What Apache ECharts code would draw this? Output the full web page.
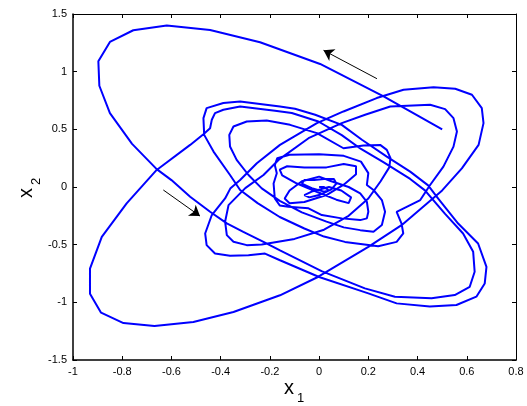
<!DOCTYPE html>
<html>
<head>
<meta charset="utf-8">
<script src="https://cdn.jsdelivr.net/npm/echarts@6/dist/echarts.min.js"></script>
<style>
  html, body { margin: 0; padding: 0; background: #fff; }
  #chart { width: 527px; height: 406px; }
</style>
</head>
<body>
<div id="chart"></div>
<script>
// trajectory, x1 and x2
const x1Values = [
  0.5, 0.262, 0.004, -0.24, -0.443, -0.619, -0.755, -0.85, -0.897, -0.893, -0.85, -0.76, -0.66, -0.6, -0.524, -0.443, -0.375, -0.308, -0.226, -0.159,
  0.01, 0.186, 0.308, 0.457, 0.551, 0.612, 0.632, 0.626, 0.585, 0.511, 0.43, 0.37, 0.261, 0.17, 0.092, -0.003, -0.111, -0.179, -0.321, -0.389,
  -0.423, -0.436, -0.443, -0.47,
  -0.524, -0.66, -0.782, -0.883, -0.931, -0.931, -0.886, -0.795, -0.669, -0.511, -0.348, -0.159, -0.003, 0.2, 0.335, 0.5, 0.58, 0.648, 0.668, 0.661,
  0.621, 0.553, 0.465, 0.343, 0.234, 0.099, -0.009, -0.159, -0.253, -0.321, -0.36, -0.382, -0.436, -0.463, -0.457, -0.423, -0.362, -0.287, -0.22,
  -0.159, 0.0, 0.2, 0.315, 0.45, 0.558, 0.639, 0.673, 0.68, 0.646, 0.565, 0.484, 0.443, 0.37, 0.275, 0.174, 0.092, -0.016, -0.098, -0.159,
  -0.321, -0.389, -0.457, -0.47, -0.467, -0.429, -0.362, -0.321, -0.25, -0.16, -0.06, 0.02, 0.105, 0.24, 0.315, 0.342, 0.335, 0.315,
  0.411, 0.451, 0.505, 0.546, 0.56, 0.546, 0.512, 0.451, 0.289, 0.187, 0.092, -0.043, -0.162, -0.226, -0.3, -0.368, -0.382, -0.375, -0.348, -0.294,
  -0.233, -0.1, 0.02, 0.12, 0.2, 0.25, 0.285, 0.29, 0.275, 0.248, 0.18, 0.099,
  -0.009, -0.118, -0.213, -0.294, -0.348, -0.365, -0.362, -0.335, -0.287, -0.233, -0.16, -0.07, 0.03, 0.1, 0.167, 0.221, 0.255, 0.268, 0.255, 0.221, 0.194,
  0.2, 0.17, 0.1, 0.0, -0.12, -0.17, -0.18, -0.172,
  -0.185, -0.18, -0.16, -0.125, -0.043, 0.011, 0.092, 0.167, 0.194, 0.2, 0.194, 0.167,
  0.12, 0.05, 0.0,
  -0.07, -0.12, -0.14, -0.12, -0.06, 0.03, 0.1, 0.15, 0.15, 0.1, 0.03,
  -0.06, -0.13, -0.16, -0.15, -0.09, 0.0, 0.07, 0.12, 0.13, 0.09, 0.04,
  -0.03, -0.06, -0.04, 0.0, 0.05, 0.07, 0.06, 0.02, -0.02,
  -0.06, -0.07, -0.03, 0.02, 0.04, 0.02, 0.0
];
const x2Values = [
  0.5, 0.786, 1.067, 1.255, 1.362, 1.4, 1.359, 1.258, 1.09, 0.878, 0.64, 0.374, 0.155, 0.06, -0.084, -0.215, -0.316, -0.389, -0.475, -0.55,
  -0.73, -0.879, -0.951, -0.965, -0.937, -0.865, -0.735, -0.562, -0.403, -0.231, -0.029, 0.07, 0.215, 0.33, 0.45, 0.568, 0.641, 0.661, 0.698, 0.67,
  0.641, 0.583, 0.51, 0.458,
  0.365, 0.148, -0.142, -0.432, -0.707, -0.925, -1.09, -1.18, -1.206, -1.171, -1.084, -0.939, -0.778, -0.519, -0.331, -0.03, 0.162, 0.365, 0.554, 0.684,
  0.8, 0.852, 0.864, 0.843, 0.771, 0.655, 0.554, 0.365, 0.206, 0.061, -0.01, -0.099, -0.243, -0.403, -0.504, -0.577, -0.597, -0.591, -0.577,
  -0.635, -0.78, -0.922, -1.009, -1.037, -1.023, -0.951, -0.836, -0.692, -0.49, -0.317, -0.101, 0.014, 0.133, 0.264, 0.41, 0.539, 0.626, 0.678, 0.698,
  0.742, 0.728, 0.684, 0.597, 0.452, 0.307, 0.104, -0.026, -0.14, -0.26, -0.36, -0.43, -0.476, -0.513, -0.476, -0.403, -0.317, -0.216,
  -0.113, 0.017, 0.177, 0.35, 0.481, 0.597, 0.675, 0.713, 0.698, 0.626, 0.554, 0.423, 0.24, 0.104, -0.01, -0.157, -0.301, -0.417, -0.475, -0.504,
  -0.499, -0.45, -0.37, -0.25, -0.1, 0.05, 0.17, 0.25, 0.322, 0.365, 0.36, 0.336,
  0.467, 0.539, 0.577, 0.568, 0.525, 0.452, 0.351, 0.235, 0.104, -0.012, -0.12, -0.22, -0.3, -0.35, -0.374, -0.388, -0.33, -0.214, -0.113, -0.026, 0.017,
  0.12, 0.22, 0.27, 0.285, 0.28, 0.25, 0.19, 0.119,
  0.03, -0.1, -0.16, -0.171, -0.185, -0.243, -0.272, -0.287, -0.272, -0.214, -0.128, -0.055,
  0.0, 0.05, 0.09,
  0.05, -0.03, -0.1, -0.14, -0.13, -0.07, 0.02, 0.11, 0.18, 0.2, 0.17,
  0.17, 0.18, 0.15, 0.1, 0.03, -0.05, -0.11, -0.14, -0.09, -0.03, 0.0,
  -0.04, -0.07, -0.09, -0.07, -0.02, 0.03, 0.07, 0.07, 0.06,
  0.06, 0.03, -0.01, -0.04, -0.03, 0.0, 0.0
];

// direction arrows: [tail, head]
const arrowTop = [[0.235, 0.939], [0.018, 1.185]];
const arrowLeft = [[-0.633, -0.026], [-0.484, -0.252]];

const xTicks = { min: -1, max: 0.8, interval: 0.2 };
const yTicks = { min: -1.5, max: 1.5, interval: 0.5 };

const trajectory = x1Values.map((x, i) => [x, x2Values[i]]);

const chart = echarts.init(document.getElementById('chart'), null, { renderer: 'canvas' });

const baseFont = 'Liberation Sans, Arial, Helvetica, sans-serif';

const axisCommon = {
    type: 'value',
    axisLine: { show: true, onZero: false, lineStyle: { color: '#000', width: 1 } },
    axisTick: { show: true, inside: true, length: 4, lineStyle: { color: '#000' } },
    splitLine: { show: false },
}

chart.setOption({
    animation: false,
    backgroundColor: '#fff',
    grid: { left: 73, right: 11, top: 14, bottom: 46, containLabel: false },
    xAxis: [
        {
            ...axisCommon,
            ...xTicks,
            position: 'bottom',
            axisLine: { show: true, onZero: false, lineStyle: { color: '#000', width: 1.5 } },
            axisLabel: { color: '#000', fontSize: 11, fontFamily: baseFont, margin: 6 },
        },
        {
            ...axisCommon,
            ...xTicks,
            position: 'top',
            axisLabel: { show: false },
        },
    ],
    yAxis: [
        {
            ...axisCommon,
            ...yTicks,
            position: 'left',
            axisLine: { show: true, onZero: false, lineStyle: { color: '#000', width: 1.5 } },
            axisLabel: { color: '#000', fontSize: 11, fontFamily: baseFont, margin: 6 },
        },
        {
            ...axisCommon,
            ...yTicks,
            position: 'right',
            axisLabel: { show: false },
        },
    ],
    series: [
        {
            type: 'line',
            data: trajectory,
            showSymbol: false,
            smooth: false,
            lineStyle: { color: '#0000ff', width: 2 },
            z: 2,
        },
        {
            type: 'lines',
            coordinateSystem: 'cartesian2d',
            data: [{ coords: arrowTop }, { coords: arrowLeft }],
            symbol: ['none', 'arrow'],
            symbolSize: [6, 10],
            lineStyle: { color: '#000', width: 1, opacity: 1 },
            z: 3,
        },
    ],
    graphic: [
        // axis titles, x with a subscript
        { type: 'text', x: 284, y: 378, style: { text: 'x', font: '20px ' + baseFont, fill: '#000' } },
        { type: 'text', x: 297, y: 392, style: { text: '1', font: '13px ' + baseFont, fill: '#000' } },
        { type: 'text', x: 16, y: 198, rotation: Math.PI / 2, style: { text: 'x', font: '20px ' + baseFont, fill: '#000' } },
        { type: 'text', x: 30, y: 185, rotation: Math.PI / 2, style: { text: '2', font: '13px ' + baseFont, fill: '#000' } },
    ],
})
</script>
</body>
</html>
